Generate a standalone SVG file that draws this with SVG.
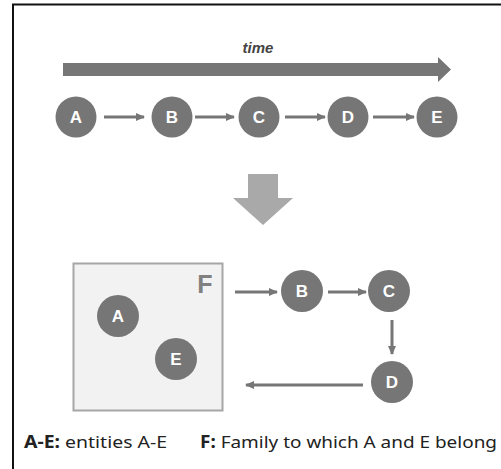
<svg xmlns="http://www.w3.org/2000/svg" width="501" height="469" viewBox="0 0 501 469">
<defs>
<marker id="ah" markerWidth="10" markerHeight="10" refX="8" refY="5" orient="auto" markerUnits="userSpaceOnUse">
<path d="M0,1 L9,5 L0,9 Z" fill="#767676"/>
</marker>
</defs>
<style>
.n{fill:#767676}
.nt{fill:#ffffff;font-family:"Liberation Sans",Arial,sans-serif;font-weight:bold;font-size:17px;text-anchor:middle}
.c{stroke:#767676;stroke-width:3;fill:none;marker-end:url(#ah)}
.lg{font-family:"Noto Sans","Liberation Sans",Arial,sans-serif;font-size:17px;fill:#222}
</style>
<rect width="501" height="469" fill="#ffffff"/>
<path d="M13,469 V4.5 H501" fill="none" stroke="#111" stroke-width="2"/>
<g id="time">
<text x="258" y="53" font-family="Liberation Sans,Arial,sans-serif" font-style="italic" font-weight="bold" font-size="15" fill="#444" text-anchor="middle">time</text>
<path d="M63,63 H438 V57 L451,69.5 L438,82 V76 H63 Z" fill="#767676"/>
</g>
<g id="transform">
<path d="M248,174 H278 V198 H293 L263,225 L233,198 H248 Z" fill="#a9a9a9"/>
</g>
<g id="connectors">
<line class="c" x1="104" y1="117" x2="144" y2="117"/>
<line class="c" x1="195" y1="117" x2="234" y2="117"/>
<line class="c" x1="285" y1="117" x2="325" y2="117"/>
<line class="c" x1="373" y1="117" x2="414" y2="117"/>
<line class="c" x1="235" y1="292" x2="277" y2="292"/>
<line class="c" x1="328" y1="292" x2="366" y2="292"/>
<line class="c" x1="392" y1="320" x2="392" y2="354"/>
<line class="c" x1="363" y1="385" x2="246" y2="385"/>
</g>
<g id="nA1"><circle class="n" cx="76" cy="117" r="20.5"/><text class="nt" x="76" y="123">A</text></g>
<g id="nB1"><circle class="n" cx="172" cy="117" r="20.5"/><text class="nt" x="172" y="123">B</text></g>
<g id="nC1"><circle class="n" cx="259" cy="117" r="20.5"/><text class="nt" x="259" y="123">C</text></g>
<g id="nD1"><circle class="n" cx="348" cy="117" r="20.5"/><text class="nt" x="348" y="123">D</text></g>
<g id="nE1"><circle class="n" cx="437" cy="117" r="20.5"/><text class="nt" x="437" y="123">E</text></g>
<g id="family">
<rect x="73.5" y="263.5" width="149" height="147" fill="#f2f2f2" stroke="#a6a6a6" stroke-width="2"/>
<text x="205" y="293" font-family="Liberation Sans,Arial,sans-serif" font-weight="bold" font-size="25" fill="#808080" text-anchor="middle">F</text>
</g>
<g id="nA2"><circle class="n" cx="118" cy="316" r="21"/><text class="nt" x="118" y="322">A</text></g>
<g id="nE2"><circle class="n" cx="176" cy="359" r="21"/><text class="nt" x="176" y="365">E</text></g>
<g id="nB2"><circle class="n" cx="302" cy="291" r="21"/><text class="nt" x="302" y="297">B</text></g>
<g id="nC2"><circle class="n" cx="389" cy="291" r="21"/><text class="nt" x="389" y="297">C</text></g>
<g id="nD2"><circle class="n" cx="392" cy="382" r="21"/><text class="nt" x="392" y="388">D</text></g>
<g id="legend">
<text class="lg" x="24" y="448" textLength="143" lengthAdjust="spacingAndGlyphs"><tspan font-weight="bold">A-E:</tspan> entities A-E</text>
<text class="lg" x="200" y="448" textLength="297" lengthAdjust="spacingAndGlyphs"><tspan font-weight="bold">F:</tspan> Family to which A and E belong</text>
</g>
</svg>
